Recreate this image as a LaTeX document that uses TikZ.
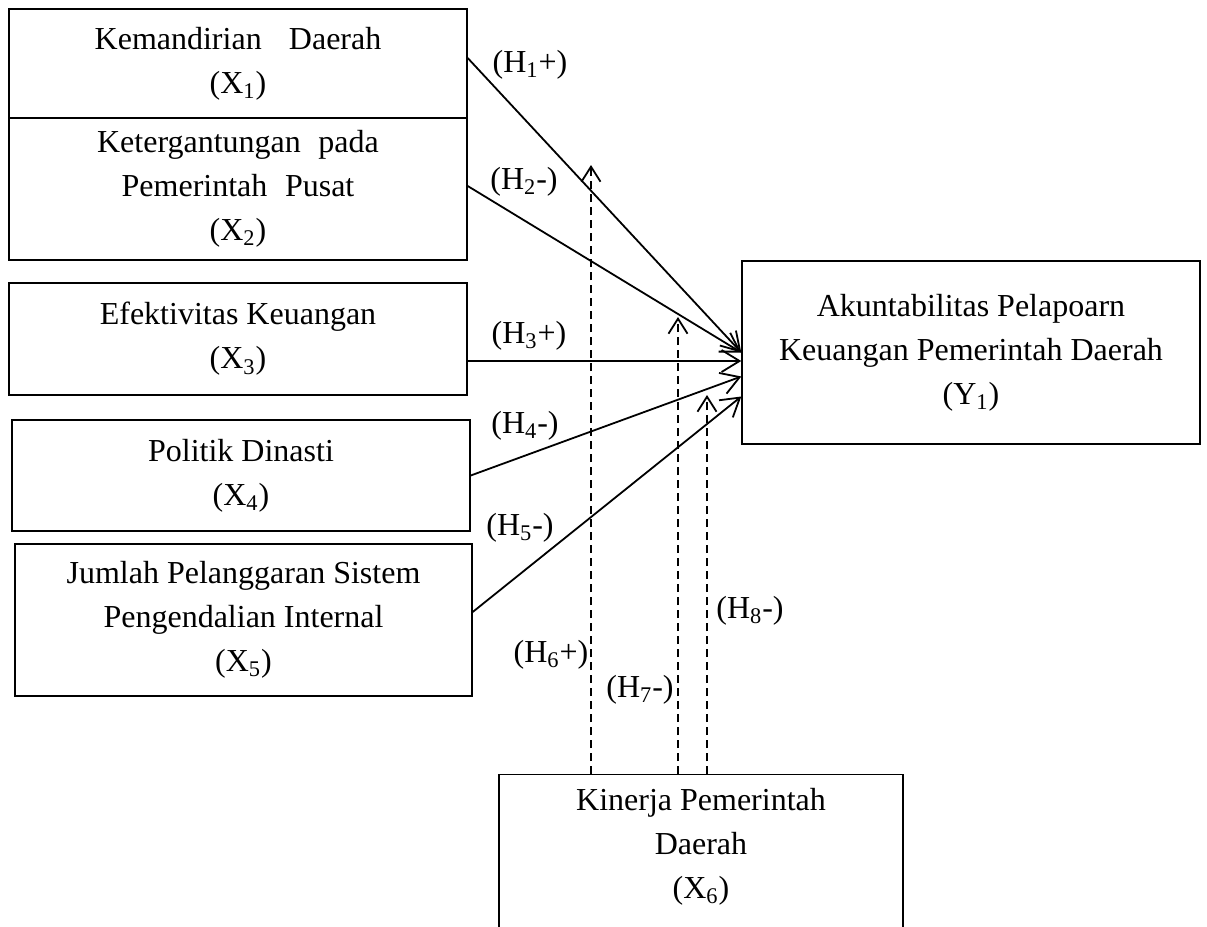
\documentclass[tikz,border=0pt]{standalone}
\usepackage{fontspec}
\setmainfont{Liberation Serif}
\usetikzlibrary{arrows.meta}
\begin{document}
\begin{tikzpicture}[x=0.5pt,y=-0.5pt,
 box/.style={draw, line width=0.7pt, inner sep=0pt, align=center, font=\fontsize{16}{22}\selectfont},
 txt/.style={inner sep=0pt, align=center, font=\fontsize{16}{22}\selectfont},
 lbl/.style={inner sep=0pt, font=\fontsize{16}{22}\selectfont},
 arr/.style={line width=0.9pt, -{Straight Barb[length=9pt,width=11pt,line width=0.9pt]}},
 darr/.style={line width=0.9pt, dash pattern=on 4pt off 2.5pt, -{Straight Barb[length=7.5pt,width=9.5pt,line width=0.9pt]}}]
\useasboundingbox (0,0) rectangle (1207,927);
% boxes
\node[box, minimum width=229pt, minimum height=54.5pt] (x1) at (238,63.5) {Kemandirian\hspace{0.85em}Daerah\\(X\textsubscript{1})};
\node[box, minimum width=229pt, minimum height=71pt] (x2) at (238,189) {Ketergantungan\hspace{0.55em}pada\\Pemerintah\hspace{0.55em}Pusat\\(X\textsubscript{2})};
\node[box, minimum width=229pt, minimum height=56pt] (x3) at (238,339) {Efektivitas Keuangan\\(X\textsubscript{3})};
\node[box, minimum width=229pt, minimum height=55.5pt] (x4) at (241,475.5) {Politik Dinasti\\(X\textsubscript{4})};
\node[box, minimum width=228.5pt, minimum height=76pt] (x5) at (243.5,620) {Jumlah Pelanggaran Sistem\\Pengendalian Internal\\(X\textsubscript{5})};
\node[box, minimum width=229pt, minimum height=91.5pt] (y1) at (971,352.5) {Akuntabilitas Pelapoarn\\Keuangan Pemerintah Daerah\\(Y\textsubscript{1})};
\node[draw, line width=0.7pt, inner sep=0pt, minimum width=202pt, minimum height=90pt, anchor=north] (x6) at (701,774) {};
\node[txt] (x6t) at (701,847) {Kinerja Pemerintah\\Daerah\\(X\textsubscript{6})};
% solid arrows
\draw[arr] ([yshift=2.75pt]x1.east) -- (y1.west);
\draw[arr] ([yshift=1.5pt]x2.east) -- (y1.west);
\draw[arr] ([yshift=-11pt]x3.east) -- ([yshift=-4.25pt]y1.west);
\draw[arr] (x4.east) -- ([yshift=-12pt]y1.west);
\draw[arr] ([yshift=4pt]x5.east) -- ([yshift=-22pt]y1.west);
% dashed moderation arrows
\coordinate (t6) at (591,165);
\coordinate (t7) at (678,317);
\coordinate (t8) at (707,395);
\draw[darr] (t6 |- x6.north) -- (t6);
\draw[darr] (t7 |- x6.north) -- (t7);
\draw[darr] (t8 |- x6.north) -- (t8);
% labels
\node[lbl] (h1) at (530,65) {(H\textsubscript{1}+)};
\node[lbl] (h2) at (524,182) {(H\textsubscript{2}-)};
\node[lbl] (h3) at (529,336) {(H\textsubscript{3}+)};
\node[lbl] (h4) at (525,426) {(H\textsubscript{4}-)};
\node[lbl] (h5) at (520,528) {(H\textsubscript{5}-)};
\node[lbl] (h6) at (551,655) {(H\textsubscript{6}+)};
\node[lbl] (h7) at (640,690) {(H\textsubscript{7}-)};
\node[lbl] (h8) at (750,611) {(H\textsubscript{8}-)};
\end{tikzpicture}
\end{document}
